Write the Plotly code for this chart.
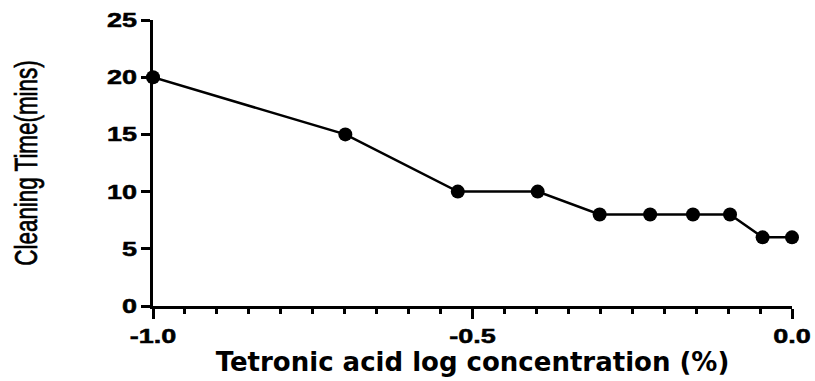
import plotly.graph_objects as go

log_conc = [-1.0, -0.699, -0.523, -0.398, -0.301, -0.222, -0.155, -0.097, -0.046, 0.0]
cleaning_time = [20, 15, 10, 10, 8, 8, 8, 8, 6, 6]

x_ticks = [-1.0, -0.5, 0.0]
x_tick_labels = ["-1.0", "-0.5", "0.0"]
y_ticks = [0, 5, 10, 15, 20, 25]
y_tick_labels = ["0", "5", "10", "15", "20", "25"]

fig = go.Figure()
fig.add_trace(go.Scatter(
    x=log_conc, y=cleaning_time, mode="lines+markers",
    line=dict(color="black", width=2.5),
    marker=dict(color="black", size=14, symbol="circle"),
    cliponaxis=False, showlegend=False,
))

tick_font = dict(family="Liberation Sans, Arial, sans-serif", size=20, color="black")

fig.update_layout(
    width=815, height=381,
    margin=dict(l=153, r=23, t=20, b=75),
    plot_bgcolor="white", paper_bgcolor="white",
    xaxis=dict(
        range=[-1.0, 0.0], tickvals=x_ticks, ticktext=["<b>%s</b>" % t for t in x_tick_labels],
        automargin=False,
        showgrid=False, zeroline=False, showline=True, linecolor="black", linewidth=3,
        ticks="outside", ticklen=10, tickwidth=3, tickcolor="black",
        minor=dict(dtick=0.05, ticks="outside", ticklen=5, tickwidth=2.5, tickcolor="black", showgrid=False),
        tickfont=tick_font,
        title=dict(text="<b>Tetronic acid log concentration (%)</b>",
                   font=dict(family="DejaVu Sans, sans-serif", size=26, color="black"),
                   standoff=3),
    ),
    yaxis=dict(
        range=[0, 25], tickvals=y_ticks, ticktext=["<b>%s</b>" % t for t in y_tick_labels],
        automargin=False,
        showgrid=False, zeroline=False, showline=True, linecolor="black", linewidth=3,
        ticks="outside", ticklen=9, tickwidth=3, tickcolor="black",
        tickfont=tick_font,
        title=dict(text="Cleaning Time(mins)",
                   font=dict(family="Liberation Sans, Arial, sans-serif", size=22.4, color="black"),
                   standoff=71),
    ),
)

post = """
var gd = document.getElementById('{plot_id}');
function stretchText(){
  var t = gd.querySelector('text.ytitle');
  if (t) {
    var x = parseFloat(t.getAttribute('x')), y = parseFloat(t.getAttribute('y'));
    t.setAttribute('transform', 'rotate(-90,' + x + ',' + y + ') translate(' + x + ',' + y + ') scale(1,1.43) translate(' + (-x) + ',' + (-y) + ')');
    t.setAttribute('stroke', 'black');
    t.setAttribute('stroke-width', '0.5');
  }
  var labels = gd.querySelectorAll('g.xtick text, g.ytick text');
  labels.forEach(function(el){
    var base = el.getAttribute('data-base-transform');
    if (base === null) { base = el.getAttribute('transform') || ''; el.setAttribute('data-base-transform', base); }
    var lx = parseFloat(el.getAttribute('x')) || 0, ly = parseFloat(el.getAttribute('y')) || 0;
    el.setAttribute('transform', base + ' translate(' + lx + ',' + ly + ') scale(1.35,1) translate(' + (-lx) + ',' + (-ly) + ')');
    el.setAttribute('stroke', 'black');
    el.setAttribute('stroke-width', '0.5');
  });
}
stretchText();
if (gd.on) { gd.on('plotly_afterplot', stretchText); }
"""

fig.write_html("out.html", post_script=post)
